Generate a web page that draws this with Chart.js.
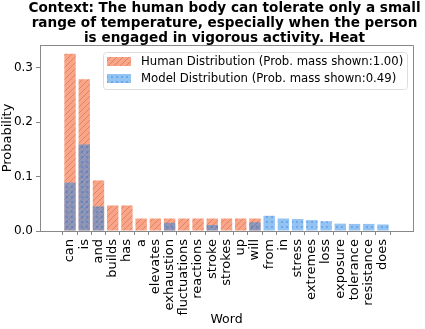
<!DOCTYPE html>
<html>
<head>
<meta charset="utf-8">
<script src="https://cdn.jsdelivr.net/npm/chart.js@4.4.1/dist/chart.umd.min.js"></script>
<style>
  html, body { margin: 0; padding: 0; background: #fff; }
  #wrap { width: 425px; height: 329px; }
</style>
</head>
<body>
<div id="wrap"><canvas id="myChart" width="425" height="329"></canvas></div>
<script>
const words = ['can', 'is', 'and', 'builds', 'has', 'a', 'elevates', 'exhaustion', 'fluctuations',
    'reactions', 'stroke', 'strokes', 'up', 'will', 'from', 'in', 'stress', 'extremes', 'loss',
    'exposure', 'tolerance', 'resistance', 'does'];
const humanProb = [0.326, 0.279, 0.093, 0.047, 0.047, 0.023, 0.023, 0.023, 0.023,
    0.023, 0.023, 0.023, 0.023, 0.023, 0, 0, 0, 0, 0, 0, 0, 0, 0];
const modelProb = [0.089, 0.159, 0.045, 0, 0, 0, 0, 0.015, 0,
    0, 0.011, 0, 0, 0.016, 0.028, 0.023, 0.022, 0.020, 0.018, 0.0135, 0.013, 0.013, 0.012];
const yTicks = [0.0, 0.1, 0.2, 0.3];
const titleLines = [
    'Context: The human body can tolerate only a small',
    'range of temperature, especially when the person',
    'is engaged in vigorous activity. Heat'
];
const legendLabels = [
    'Human Distribution (Prob. mass shown:1.00)',
    'Model Distribution (Prob. mass shown:0.49)'
];

const FONT = "'DejaVu Sans', sans-serif";

// hatch "///" for the human bars
function hatchPattern() {
    const c = document.createElement('canvas');
    c.width = 6; c.height = 6;
    const g = c.getContext('2d');
    g.fillStyle = 'rgb(247,166,138)';
    g.fillRect(0, 0, 6, 6);
    g.strokeStyle = 'rgb(232,128,96)';
    g.lineWidth = 1;
    g.beginPath();
    g.moveTo(-1, 7); g.lineTo(7, -1);
    g.moveTo(-4, 4); g.lineTo(4, -4);
    g.moveTo(2, 10); g.lineTo(10, 2);
    g.stroke();
    return g.createPattern(c, 'repeat');
}

// dots for the model bars (semi transparent so the overlap turns blue-grey)
function dotPattern() {
    const c = document.createElement('canvas');
    c.width = 5; c.height = 5;
    const g = c.getContext('2d');
    g.fillStyle = 'rgba(40,135,230,0.5)';
    g.fillRect(0, 0, 5, 5);
    g.fillStyle = 'rgba(30,100,210,0.3)';
    g.fillRect(1, 1, 2, 2);
    return g.createPattern(c, 'repeat');
}

const humanFill = hatchPattern();
const modelFill = dotPattern();

const frameAndText = {
    id: 'frameAndText',
    afterDraw(chart) {
        const ctx = chart.ctx;
        const a = chart.chartArea;
        ctx.save();
        // top / right spines
        ctx.strokeStyle = '#888';
        ctx.lineWidth = 1;
        ctx.beginPath();
        ctx.moveTo(a.left, a.top + 0.5);
        ctx.lineTo(a.right + 0.5, a.top + 0.5);
        ctx.lineTo(a.right + 0.5, a.bottom);
        ctx.stroke();

        // title
        ctx.fillStyle = '#000';
        ctx.font = 'bold 13.6px ' + FONT;
        ctx.textAlign = 'center';
        ctx.textBaseline = 'middle';
        const cx = (a.left + a.right) / 2 - 2;
        titleLines.forEach((t, i) => ctx.fillText(t, cx, 8 + i * 15));

        // legend
        const lx = 103, ly = 52, lw = 304, lh = 37;
        ctx.beginPath();
        ctx.roundRect(lx + 0.5, ly + 0.5, lw, lh, 3);
        ctx.fillStyle = 'rgba(255,255,255,0.8)';
        ctx.fill();
        ctx.strokeStyle = '#ddd';
        ctx.stroke();
        const fills = [humanFill, modelFill];
        ctx.font = '11.7px ' + FONT;
        ctx.textAlign = 'left';
        legendLabels.forEach((t, i) => {
            const y = ly + 5 + i * 17;
            ctx.fillStyle = fills[i];
            ctx.fillRect(107, y, 24, 9);
            ctx.fillStyle = '#000';
            ctx.fillText(t, 141, y + 4.5);
        });
        ctx.restore();
    }
};

const ctx = document.getElementById('myChart').getContext('2d');
new Chart(ctx, {
    type: 'bar',
    data: {
        datasets: [{
            label: legendLabels[0],
            data: humanProb.map((v, i) => ({ x: i, y: v })),
            backgroundColor: humanFill,
            barPercentage: 0.8,
            categoryPercentage: 1.0,
            order: 2
        }, {
            label: legendLabels[1],
            data: modelProb.map((v, i) => ({ x: i, y: v })),
            backgroundColor: modelFill,
            barPercentage: 0.8,
            categoryPercentage: 1.0,
            order: 1
        }]
    },
    options: {
        responsive: false,
        animation: false,
        layout: { padding: { top: 45, right: 12, bottom: 0, left: 0 } },
        plugins: {
            legend: { display: false },
            tooltip: { enabled: false }
        },
        scales: {
            x: {
                type: 'linear',
                stacked: true,
                min: -1.54,
                max: 23.54,
                afterBuildTicks: (s) => { s.ticks = words.map((w, i) => ({ value: i })); },
                afterFit: (s) => { s.height = 98; },
                ticks: {
                    autoSkip: false,
                    minRotation: 90,
                    maxRotation: 90,
                    padding: 4,
                    color: '#000',
                    font: { family: FONT, size: 13 },
                    callback: (v) => words[v]
                },
                grid: { display: true, drawOnChartArea: false, drawTicks: true, tickLength: 4, color: '#888' },
                border: { display: true, color: '#888' },
                title: { display: true, text: 'Word', color: '#000', font: { family: FONT, size: 12.5 }, padding: { top: 0, bottom: 2 } }
            },
            y: {
                min: 0,
                max: 0.342,
                afterBuildTicks: (s) => { s.ticks = yTicks.map(v => ({ value: v })); },
                afterFit: (s) => { s.width = 40; },
                ticks: {
                    padding: 3,
                    color: '#000',
                    font: { family: FONT, size: 12 },
                    callback: (v) => v.toFixed(1)
                },
                grid: { display: true, drawOnChartArea: false, drawTicks: true, tickLength: 4, color: '#888' },
                border: { display: true, color: '#888' },
                title: { display: true, text: 'Probability', color: '#000', font: { family: FONT, size: 13 }, padding: { top: 0, bottom: 1 } }
            }
        }
    },
    plugins: [frameAndText]
});
</script>
</body>
</html>
